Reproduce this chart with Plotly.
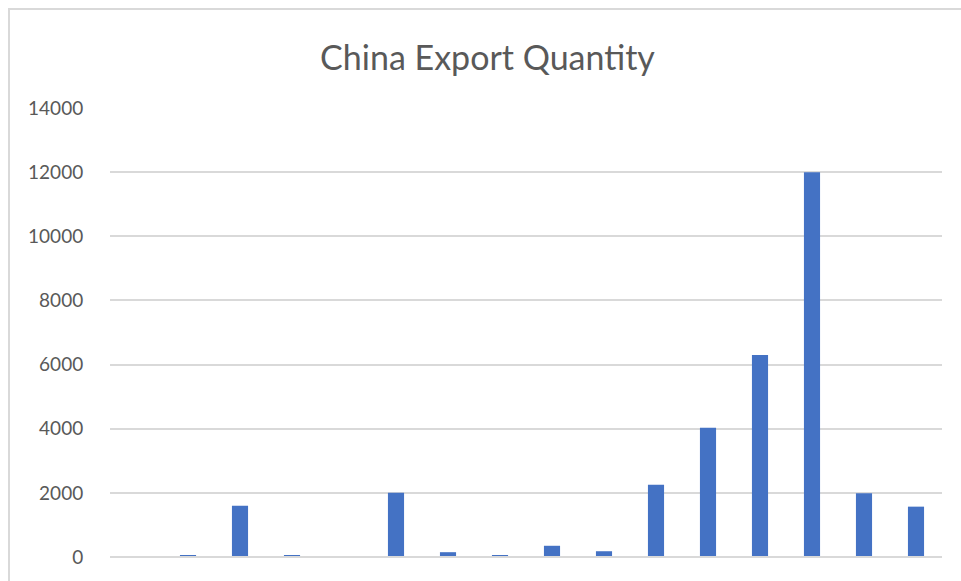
import plotly.graph_objects as go

# Export quantity per period (16 periods, labels not shown on the axis)
categories = [str(i) for i in range(1, 17)]
quantities = [30, 50, 1600, 50, 15, 2000, 150, 50, 350, 180, 2250, 4030, 6300, 12000, 1990, 1570]
y_ticks = [0, 2000, 4000, 6000, 8000, 10000, 12000, 14000]

TEXT = "#595959"
GRID = "#d9d9d9"
BAR = "#4472c4"

fig = go.Figure(
    go.Bar(
        x=categories,
        y=quantities,
        marker=dict(color=BAR, line=dict(width=0)),
        width=0.31,
    )
)

fig.update_layout(
    width=961,
    height=581,
    paper_bgcolor="white",
    plot_bgcolor="white",
    margin=dict(l=110, r=19, t=108, b=24),
    showlegend=False,
    title=dict(
        text="China Export Quantity",
        x=487.5 / 961,
        xanchor="center",
        y=1 - 58 / 581,
        yanchor="middle",
        font=dict(family="Lato, Open Sans, sans-serif", size=34, color=TEXT),
    ),
    xaxis=dict(
        showticklabels=False,
        showgrid=False,
        zeroline=False,
        showline=False,
        ticks="",
    ),
    yaxis=dict(
        range=[0, 14000],
        tickvals=y_ticks,
        ticktext=[str(v) for v in y_ticks],
        showgrid=True,
        gridcolor=GRID,
        gridwidth=2,
        zeroline=False,
        showline=False,
        ticks="outside",
        ticklen=22,
        tickcolor="rgba(0,0,0,0)",
        tickfont=dict(family="Lato, Open Sans, sans-serif", size=19, color=TEXT),
    ),
    shapes=[
        dict(
            type="line", xref="paper", yref="paper",
            x0=0, x1=1, y0=0, y1=0,
            line=dict(color=GRID, width=2),
        ),
        dict(
            type="rect", xref="paper", yref="paper",
            x0=-101 / 832, x1=1.2, y0=-0.2, y1=1 + 99 / 449,
            line=dict(color=GRID, width=2),
            fillcolor="rgba(0,0,0,0)",
            layer="below",
        ),
    ],
)

fig.write_html("out.html")
